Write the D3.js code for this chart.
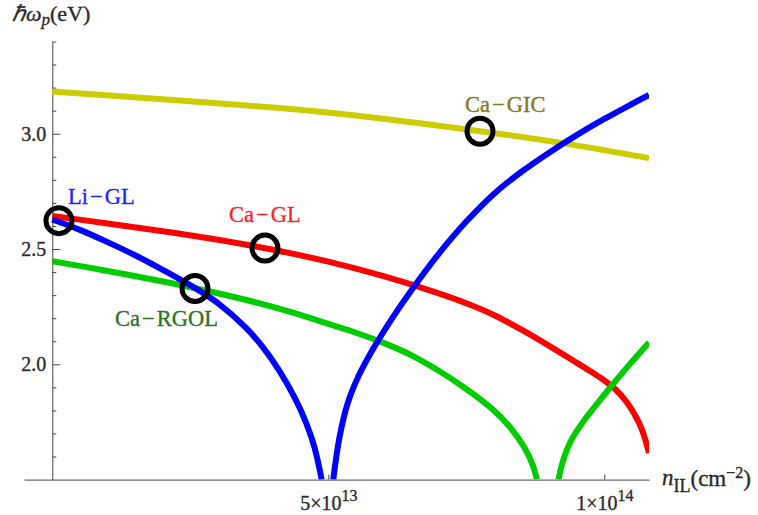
<!DOCTYPE html>
<html>
<head>
<meta charset="utf-8">
<script src="https://cdn.jsdelivr.net/npm/d3@7"></script>
<style>
  html, body { margin: 0; padding: 0; background: #fff; }
  svg { display: block; font-family: "Liberation Serif", "Times New Roman", serif; }
</style>
</head>
<body>
<svg id="chart" width="758" height="515"></svg>
<script>
// Plasmon energy (eV) versus interlayer carrier density n_IL (in units of 1e13 cm^-2)

// Ca-GIC
const caGicN = [0, 2.5, 5.03, 7.75, 9.38, 10.81];
const caGicE = [3.183, 3.141, 3.091, 3.011, 2.954, 2.894];

// Ca-GL
const caGlN = [0, 1, 2, 3, 4, 5, 6, 7, 7.5, 8, 8.5, 9, 9.5, 9.8, 10, 10.2, 10.4, 10.55, 10.68, 10.81];
const caGlE = [2.643, 2.611, 2.577, 2.540, 2.497, 2.445, 2.382, 2.308, 2.265, 2.214, 2.150, 2.080, 2.007, 1.962, 1.930, 1.892, 1.838, 1.782, 1.718, 1.615];

// Li-GL, lower-density branch and upper-density branch
const liGlLowN = [0, 0.5, 1.0, 1.5, 2.0, 2.585, 3.0, 3.5, 3.8, 4.1, 4.4, 4.6, 4.75, 4.88];
const liGlLowE = [2.628, 2.583, 2.530, 2.473, 2.410, 2.331, 2.265, 2.160, 2.079, 1.977, 1.851, 1.745, 1.640, 1.500];
const liGlHighN = [5.09, 5.2, 5.35, 5.55, 5.8, 6.1, 6.5, 7.0, 7.5, 8.0, 8.5, 9.0, 9.5, 10.0, 10.5, 10.81];
const liGlHighE = [1.500, 1.680, 1.830, 1.950, 2.062, 2.179, 2.319, 2.479, 2.619, 2.739, 2.835, 2.918, 2.994, 3.064, 3.129, 3.168];

// Ca-RGOL, lower-density branch and upper-density branch
const caRgolLowN = [0, 1, 2, 2.585, 3.5, 4.3, 5.0, 5.5, 6.0, 6.5, 7.0, 7.5, 8.0, 8.3, 8.55, 8.7, 8.78];
const caRgolLowE = [2.447, 2.405, 2.359, 2.330, 2.280, 2.228, 2.175, 2.137, 2.093, 2.040, 1.972, 1.893, 1.800, 1.725, 1.640, 1.565, 1.500];
const caRgolHighN = [9.17, 9.25, 9.4, 9.62, 9.86, 10.13, 10.47, 10.81];
const caRgolHighE = [1.500, 1.580, 1.670, 1.752, 1.826, 1.906, 2.003, 2.095];

// Marked materials
const markerNames = ["Li\u2212GL", "Ca\u2212RGOL", "Ca\u2212GL", "Ca\u2212GIC"];
const markerN = [0.12, 2.585, 3.853, 7.748];
const markerE = [2.623, 2.329, 2.504, 3.011];

// Ticks
const yMajorTicks = [2.0, 2.5, 3.0];
const yMinorTicks = [1.6, 1.7, 1.8, 1.9, 2.1, 2.2, 2.3, 2.4, 2.6, 2.7, 2.8, 2.9, 3.1, 3.2, 3.3, 3.4];
const xTickValues = [5, 10];
const xTickMantissa = ["5", "1"];
const xTickExponent = ["13", "14"];

const zip = (a, b) => a.map((v, i) => [v, b[i]]);

const curves = [
  { points: zip(caGicN, caGicE), color: "#cccc00" },
  { points: zip(caGlN, caGlE), color: "#ff0000" },
  { points: zip(caRgolLowN, caRgolLowE), color: "#00cc00" },
  { points: zip(caRgolHighN, caRgolHighE), color: "#00cc00" },
  { points: zip(liGlLowN, liGlLowE), color: "#0000ff" },
  { points: zip(liGlHighN, liGlHighE), color: "#0000ff" }
];

const svg = d3.select("#chart");

const x = d3.scaleLinear().domain([-0.513, 10.81]).range([24, 649]);
const y = d3.scaleLinear().domain([1.5, 3.4]).range([479.6, 41.5]);

const axisColor = "#444";
const textColor = "#2a2a2a";

// slightly heavier text, as the labels are drawn rather bold
function heavy(sel, color) {
  sel.attr("fill", color).attr("stroke", color).attr("stroke-width", 0.35);
}

// y axis (ticks point into the plot)
const yAxisG = svg.append("g").attr("transform", `translate(${x(0)},0)`);
yAxisG.call(d3.axisLeft(y).tickValues(yMajorTicks).tickSizeInner(-8).tickSizeOuter(0)
  .tickPadding(6).tickFormat(d3.format(".1f")));
yAxisG.append("g").call(d3.axisLeft(y).tickValues(yMinorTicks).tickSizeInner(-4).tickSizeOuter(0)
  .tickFormat(""))
  .select(".domain").remove();
yAxisG.selectAll("path, line").attr("stroke", axisColor).attr("stroke-width", 1);
yAxisG.selectAll("text").attr("font-size", 20)
  .attr("font-family", "'Liberation Serif', serif")
  .call(heavy, textColor);

// x axis
const xAxisG = svg.append("g").attr("transform", `translate(0,${y(1.5)})`);
xAxisG.call(d3.axisBottom(x).tickValues(xTickValues).tickSizeInner(-5).tickSizeOuter(0).tickFormat(""));
xAxisG.selectAll("path, line").attr("stroke", axisColor).attr("stroke-width", 1);
xAxisG.selectAll(".tick").each(function(d, i) {
  const t = d3.select(this).append("text")
    .attr("y", 30.5).attr("dy", 0)
    .attr("text-anchor", "middle")
    .attr("font-size", 20)
    .attr("font-family", "'Liberation Serif', serif")
    .call(heavy, textColor);
  t.append("tspan").text(xTickMantissa[i] + "\u00d710");
  t.append("tspan").attr("dy", -9).attr("font-size", 16).text(xTickExponent[i]);
});

// curves
svg.append("defs").append("clipPath").attr("id", "plotClip")
  .append("rect").attr("x", 24).attr("y", 0).attr("width", 649 - 24).attr("height", y(1.5));

const line = d3.line().x(d => x(d[0])).y(d => y(d[1])).curve(d3.curveCatmullRom.alpha(0.5));

svg.append("g").attr("clip-path", "url(#plotClip)")
  .selectAll("path").data(curves).join("path")
  .attr("d", d => line(d.points))
  .attr("fill", "none")
  .attr("stroke", d => d.color)
  .attr("stroke-width", 6)
  .attr("stroke-linecap", "butt");

// material markers
svg.append("g").selectAll("circle").data(markerN).join("circle")
  .attr("cx", (d, i) => x(markerN[i]))
  .attr("cy", (d, i) => y(markerE[i]))
  .attr("r", 13)
  .attr("fill", "none")
  .attr("stroke", "#000")
  .attr("stroke-width", 5);

// material labels, offset from their markers
const labelLayout = [
  { dx: 9, dy: -17, color: "#1f1fff" },
  { dx: -80, dy: 38, color: "#2a7420" },
  { dx: -36, dy: -26, color: "#ff1f1f" },
  { dx: -15, dy: -19, color: "#857818" }
];
markerNames.forEach((name, i) => {
  const parts = name.split("\u2212");
  const t = svg.append("text")
    .attr("x", x(markerN[i]) + labelLayout[i].dx)
    .attr("y", y(markerE[i]) + labelLayout[i].dy)
    .attr("font-size", 22.5)
    .call(heavy, labelLayout[i].color);
  t.append("tspan").text(parts[0]);
  t.append("tspan").attr("dx", 2).text("\u2212");
  t.append("tspan").attr("dx", 2).text(parts[1]);
});

// axis titles
const yTitle = svg.append("text").attr("x", 12).attr("y", 21).attr("font-size", 22).call(heavy, textColor);
yTitle.append("tspan").attr("font-style", "italic").text("\u210f\u03c9");
yTitle.append("tspan").attr("font-style", "italic").attr("font-size", 17).attr("dy", 4).text("p");
yTitle.append("tspan").attr("dy", -4).text("(eV)");

const xTitle = svg.append("text").attr("x", 662).attr("y", 485).attr("font-size", 23).call(heavy, textColor);
xTitle.append("tspan").attr("font-style", "italic").text("n");
xTitle.append("tspan").attr("font-size", 18).attr("dy", 7).text("IL");
xTitle.append("tspan").attr("dy", -6).text("(cm");
xTitle.append("tspan").attr("font-size", 16).attr("dy", -8).text("\u22122");
xTitle.append("tspan").attr("dy", 8).text(")");
</script>
</body>
</html>
